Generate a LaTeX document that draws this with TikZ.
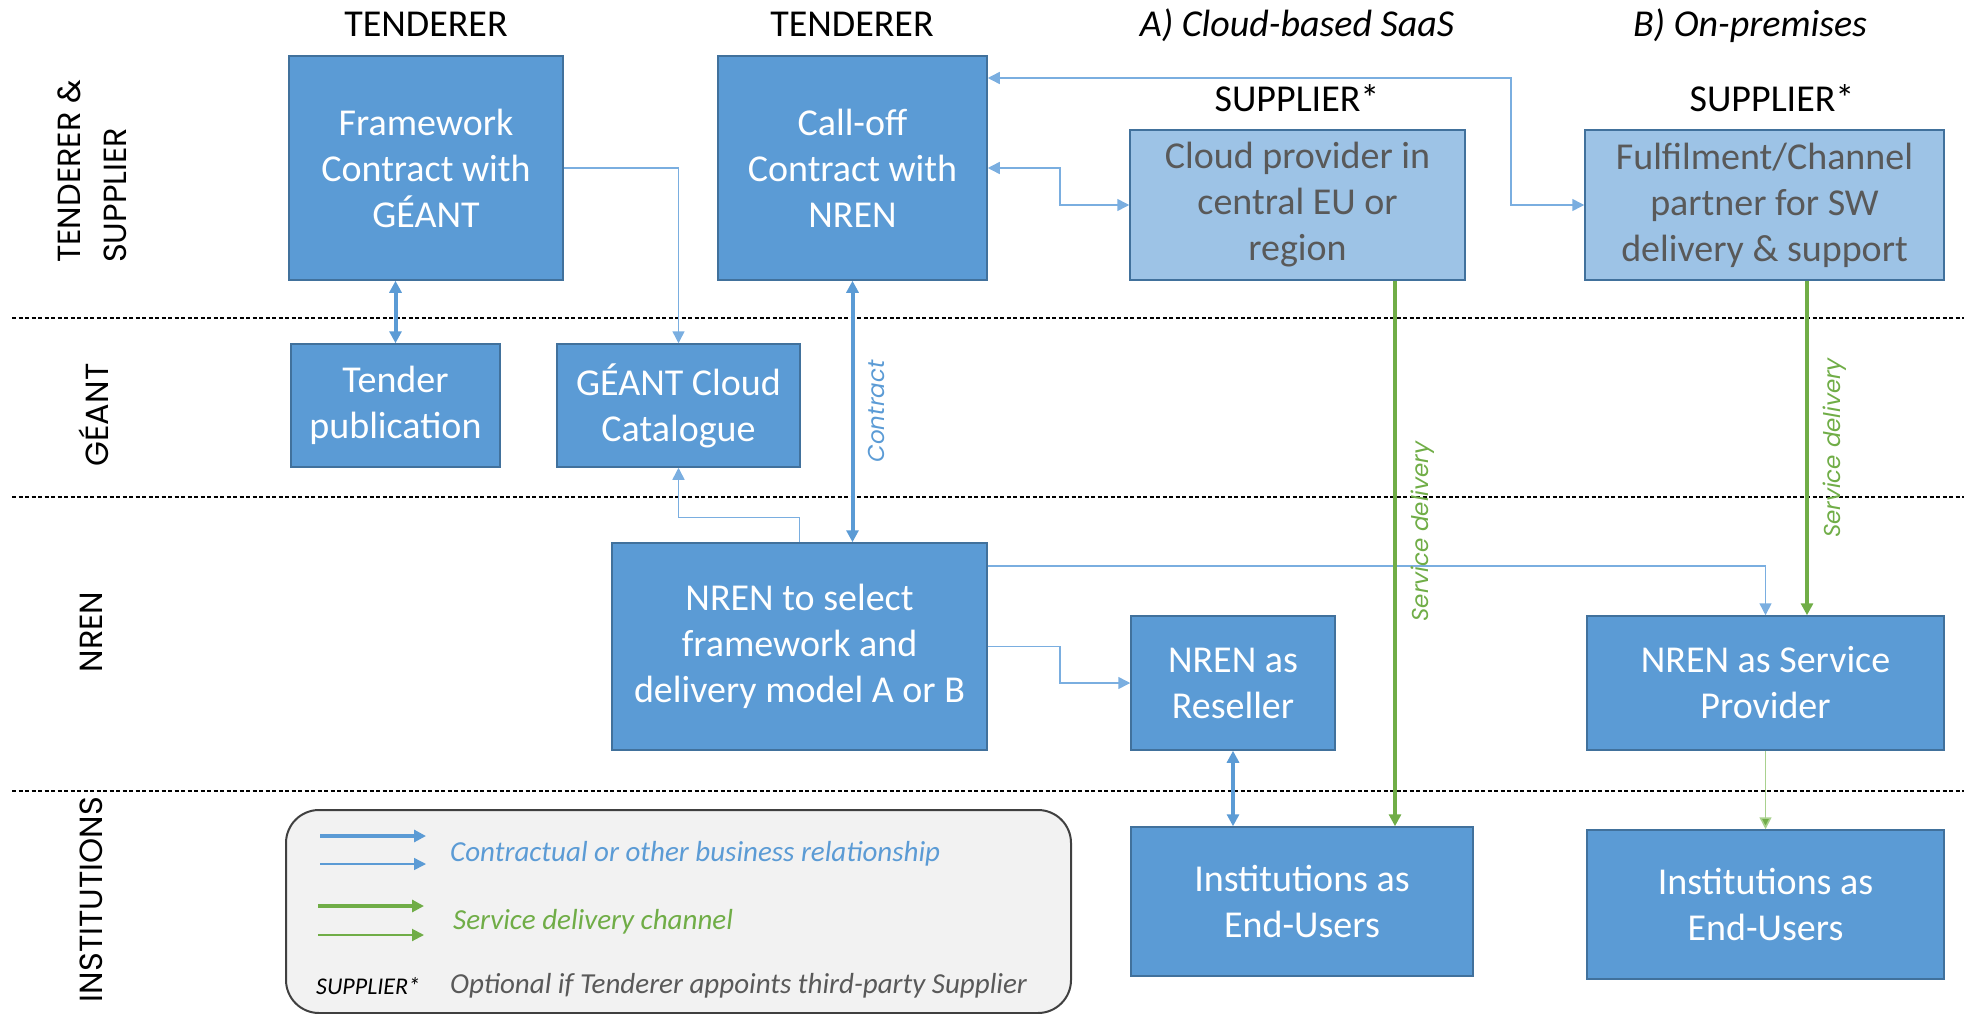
\documentclass[tikz,border=0pt]{standalone}
\usepackage{fontspec}
\setmainfont{Carlito}
\newfontfamily\gothic{Poppins}
\usetikzlibrary{arrows.meta}
\definecolor{boxblue}{HTML}{5B9BD5}
\definecolor{boxedge}{HTML}{41719C}
\definecolor{paleblue}{HTML}{9DC3E6}
\definecolor{linkblue}{HTML}{5B9BD5}
\definecolor{thinblue}{HTML}{7AAEE0}
\definecolor{greenline}{HTML}{70AD47}
\definecolor{palegreen}{HTML}{A9D18E}
\definecolor{greytext}{HTML}{595959}
\definecolor{keyfill}{HTML}{F2F2F2}
\tikzset{
  >={Triangle[length=12pt,width=12pt]},
  block/.style={draw=boxedge, line width=1.5pt, fill=boxblue, text=white,
    align=center, inner sep=0pt, font=\fontsize{38}{46}\selectfont},
  paleblock/.style={block, fill=paleblue, text=greytext},
  heading/.style={anchor=base, inner sep=0pt, font=\fontsize{38}{46}\selectfont},
  model/.style={heading, font=\itshape\fontsize{38}{46}\selectfont},
  lane/.style={rotate=90, inner sep=0pt, align=left, font=\gothic\fontsize{32}{46}\selectfont},
  sep/.style={dash pattern=on 4pt off 2.5pt, line width=1.1pt},
  contract/.style={linkblue, line width=4pt},
  relation/.style={thinblue, line width=1.5pt},
  delivery/.style={greenline, line width=4pt},
  handover/.style={palegreen, line width=1.6pt, -{Triangle[length=12pt,width=12pt,fill=greenline]}},
  tag/.style={rotate=90, anchor=north, inner sep=14pt, font=\gothic\itshape\fontsize{23}{28}\selectfont},
  keytext/.style={anchor=west, inner sep=0pt, font=\itshape\fontsize{29}{35}\selectfont}
}
\begin{document}
\begin{tikzpicture}[x=1pt, y=-1pt]
  \useasboundingbox (0,0) rectangle (1964,1014);
  \draw[sep] (12,318) -- (1964,318);
  \draw[sep] (12,497) -- (1964,497);
  \draw[sep] (12,791) -- (1964,791);

  \node[lane, anchor=west] (laneA) at (92,263) {TENDERER \&\\SUPPLIER};
  \node[lane] (laneB) at (94,415) {GÉANT};
  \node[lane] (laneC) at (91,632) {NREN};
  \node[lane, anchor=east] (laneD) at (91,797) {INSTITUTIONS};

  \node[heading] (tend1) at (426,37) {TENDERER};
  \node[heading] (tend2) at (852,37) {TENDERER};
  \node[model] (modelA) at (1297,37) {A) Cloud-based SaaS};
  \node[model] (modelB) at (1750,37) {B) On-premises};
  \node[heading] (supp1) at (1297,112) {SUPPLIER*};
  \node[heading] (supp2) at (1772,112) {SUPPLIER*};

  \node[block, minimum width=274pt, minimum height=224pt] (frame) at (426,168) {Framework\\Contract with\\GÉANT};
  \node[block, minimum width=269pt, minimum height=224pt] (calloff) at (852.5,168) {Call-off\\Contract with\\NREN};
  \node[paleblock, minimum width=335pt, minimum height=150pt] (cloud) at (1297.5,205) {Cloud provider in\\central EU or\\region};
  \node[paleblock, minimum width=359pt, minimum height=150pt] (fulfil) at (1764.5,205) {Fulfilment/Channel\\partner for SW\\delivery \& support};
  \node[block, minimum width=209pt, minimum height=123pt] (tender) at (395.5,405.5) {Tender\\publication};
  \node[block, minimum width=243pt, minimum height=123pt] (cat) at (678.5,405.5) {GÉANT Cloud\\Catalogue};
  \node[block, minimum width=375pt, minimum height=207pt] (select) at (799.5,646.5) {NREN to select\\framework and\\delivery model A or B};
  \node[block, minimum width=204pt, minimum height=134pt] (resell) at (1233,683) {NREN as\\Reseller};
  \node[block, minimum width=357pt, minimum height=134pt] (sp) at (1765.5,683) {NREN as Service\\Provider};
  \node[block, minimum width=342pt, minimum height=149pt] (inst1) at (1302,901.5) {Institutions as\\End-Users};
  \node[block, minimum width=357pt, minimum height=149pt] (inst2) at (1765.5,904.5) {Institutions as\\End-Users};

  \coordinate (k1) at (1511,78);
  \coordinate (k3) at (0,566);
  \coordinate (gA) at (1395,0);
  \coordinate (gB) at (1807,0);

  \begin{scope}[contract, <->]
    \draw (tender.north |- frame.south) -- (tender.north);
    \draw (calloff.south) -- (calloff.south |- select.north)
      node[tag, midway, text=linkblue] {Contract};
    \draw (resell.south) -- (resell.south |- inst1.north);
  \end{scope}
  \begin{scope}[relation]
    \draw[->] (frame.east) -| (cat.north);
    \draw[->] (select.north) -- ++(0,-25) -| (cat.south);
    \draw[<->] (k1 -| calloff.east) -- (k1) |- (fulfil.west);
    \draw[<->] (calloff.east) -- ++(72,0) |- (cloud.west);
    \draw[->] (k3 -| select.east) -| (sp.north);
    \draw[->] (select.east) -- ++(72,0) |- (resell.west);
  \end{scope}
  \begin{scope}[delivery, ->]
    \draw (gA |- cloud.south) -- (gA |- inst1.north)
      node[tag, pos=0.46, text=greenline] {Service delivery};
    \draw (gB |- fulfil.south) -- (gB |- sp.north)
      node[tag, midway, text=greenline] {Service delivery};
  \end{scope}
  \draw[handover] (sp.south) -- (inst2.north);

  \node[draw=black!75, line width=2pt, fill=keyfill, rounded corners=33pt,
    minimum width=785pt, minimum height=203pt, anchor=north west] (key) at (285,809) {};
  \draw[contract, ->] (320,836) -- (426,836);
  \draw[relation, linkblue, ->] (320,864) -- (426,864);
  \draw[delivery, ->] (318,906) -- (424,906);
  \draw[delivery, line width=2pt, ->] (318,935) -- (424,935);
  \node[keytext, text=linkblue] (keyA) at (450,854) {Contractual or other business relationship};
  \node[keytext, text=greenline] (keyB) at (453,922) {Service delivery channel};
  \node[keytext, font=\itshape\fontsize{24}{28}\selectfont] (keyC) at (316,986) {SUPPLIER*};
  \node[keytext, text=greytext] (keyD) at (450,986) {Optional if Tenderer appoints third-party Supplier};
\end{tikzpicture}
\end{document}
